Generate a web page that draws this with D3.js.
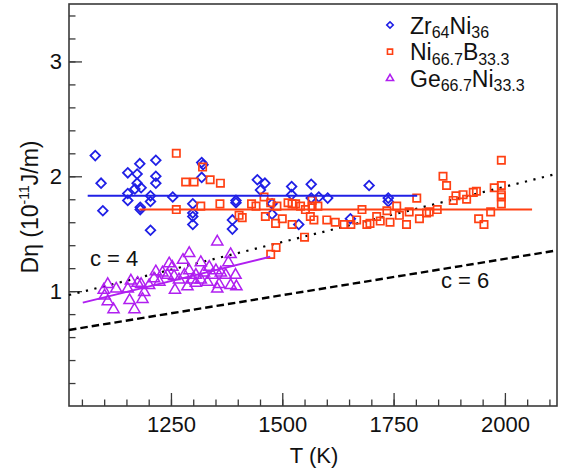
<!DOCTYPE html>
<html>
<head>
<meta charset="utf-8">
<script src="https://cdn.jsdelivr.net/npm/d3@7"></script>
<style>
  body { margin: 0; background: #fff; }
  svg text { font-family: "Liberation Sans", Arial, Helvetica, sans-serif; fill: #111; }
</style>
</head>
<body>
<div id="chart"></div>
<script>
// Zr64Ni36 (T in K, D*eta in 1e-11 J/m)
const zrData = [
  [1080, 2.18], [1093, 1.94], [1097, 1.70], [1153, 2.03], [1153, 1.85], [1153, 1.79],
  [1174, 2.02], [1174, 1.94], [1169, 1.89], [1183, 1.90], [1180, 2.11], [1181, 1.73],
  [1181, 1.71], [1216, 2.14], [1216, 2.00], [1216, 1.94], [1204, 1.83], [1204, 1.78],
  [1204, 1.53], [1254, 1.82], [1299, 1.76], [1299, 1.68], [1299, 1.65], [1299, 1.58],
  [1319, 2.12], [1322, 2.10], [1319, 1.99], [1396, 1.79], [1396, 1.77], [1388, 1.62],
  [1388, 1.54], [1444, 1.97], [1461, 1.94], [1451, 1.88], [1477, 1.76], [1477, 1.67],
  [1521, 1.91], [1521, 1.84], [1565, 1.93], [1565, 1.81], [1582, 1.82], [1602, 1.81],
  [1537, 1.58], [1653, 1.63], [1695, 1.92], [1738, 1.81], [1738, 1.78]
];
// Ni66.7B33.3
const niData = [
  [1262, 2.20], [1321, 2.08], [1283, 1.95], [1302, 1.95], [1338, 1.97], [1361, 1.94],
  [1262, 1.71], [1317, 1.74], [1360, 1.76], [1403, 1.66], [1410, 1.64], [1431, 1.76],
  [1441, 1.74], [1459, 1.82], [1474, 1.77], [1488, 1.74], [1462, 1.65], [1500, 1.63],
  [1485, 1.59], [1522, 1.58], [1513, 1.77], [1522, 1.76], [1530, 1.76], [1541, 1.74],
  [1552, 1.71], [1567, 1.79], [1567, 1.74], [1580, 1.74], [1563, 1.65], [1571, 1.62],
  [1600, 1.62], [1550, 1.47], [1486, 1.38], [1474, 1.32], [1619, 1.60], [1639, 1.58],
  [1654, 1.58], [1667, 1.62], [1690, 1.58], [1697, 1.59], [1679, 1.71], [1712, 1.65],
  [1720, 1.61], [1735, 1.70], [1742, 1.60], [1757, 1.74], [1763, 1.66], [1779, 1.58],
  [1785, 1.69], [1802, 1.81], [1808, 1.63], [1824, 1.68], [1830, 1.69], [1848, 1.71],
  [1861, 2.00], [1869, 1.92], [1884, 1.79], [1890, 1.83], [1906, 1.84], [1914, 1.80],
  [1929, 1.86], [1936, 1.87], [1992, 2.14], [1976, 1.90], [1992, 1.92], [1992, 1.84],
  [1992, 1.82], [1992, 1.76], [1968, 1.69], [1941, 1.63], [1953, 1.58]
];
// Ge66.7Ni33.3
const geData = [
  [1108, 1.06], [1099, 1.01], [1127, 1.02], [1101, 0.96], [1108, 0.91], [1121, 0.84],
  [1153, 1.02], [1160, 1.09], [1183, 1.06], [1190, 0.99], [1157, 0.92], [1168, 0.84],
  [1186, 0.93], [1175, 1.07], [1216, 1.17], [1212, 1.11], [1224, 1.08], [1231, 1.16],
  [1246, 1.24], [1242, 1.14], [1201, 1.05], [1354, 1.43], [1291, 1.33], [1384, 1.32],
  [1277, 1.27], [1317, 1.25], [1253, 1.21], [1336, 1.21], [1379, 1.25], [1291, 1.18],
  [1280, 1.14], [1257, 1.13], [1306, 1.14], [1324, 1.16], [1343, 1.14], [1351, 1.18],
  [1362, 1.16], [1373, 1.14], [1395, 1.14], [1268, 1.10], [1298, 1.10], [1317, 1.10],
  [1332, 1.08], [1358, 1.06], [1384, 1.05], [1354, 1.02], [1259, 1.01], [1287, 1.04],
  [1306, 1.07], [1397, 1.04]
];

// fitted lines and Stokes-Einstein lines
const zrFit = [[1063, 1.83], [1803, 1.83]];
const niFit = [[1179, 1.71], [2061, 1.71]];
const geFit = [[1052, 0.90], [1473, 1.30]];
const c4Line = [[1021, 0.966], [2117, 2.022]];
const c6Line = [[1021, 0.662], [2117, 1.355]];

const xTicksMajor = [1250, 1500, 1750, 2000];
const xTicksMinor = d3.range(1050, 2101, 50);
const yTicksMajor = [1, 2, 3];
const yTicksMinor = d3.range(0.2, 3.41, 0.2);

const W = 562, H = 470;
const margin = { left: 69, right: 557, top: 4, bottom: 406 };

const svg = d3.select("#chart").append("svg")
  .attr("width", W).attr("height", H);

const x = d3.scaleLinear().domain([1021, 2117]).range([margin.left, margin.right]);
const y = d3.scaleLinear().domain([0, 3.5]).range([margin.bottom, margin.top]);

const axisColor = "#3a3a3a";

// x axis (ticks point inwards)
const gx = svg.append("g").attr("transform", `translate(0,${margin.bottom})`);
gx.append("g")
  .call(d3.axisBottom(x).tickValues(xTicksMinor).tickSize(-6.5).tickFormat(""))
  .call(g => g.select(".domain").remove());
gx.append("g")
  .call(d3.axisBottom(x).tickValues(xTicksMajor).tickSize(-13).tickPadding(10).tickFormat(d3.format("d")))
  .call(g => g.select(".domain").remove())
  .selectAll("text").style("font-size", "22px");
gx.selectAll("line").attr("stroke", axisColor).attr("stroke-width", 1.3);

// y axis
const gy = svg.append("g").attr("transform", `translate(${margin.left},0)`);
gy.append("g")
  .call(d3.axisLeft(y).tickValues(yTicksMinor).tickSize(-6.5).tickFormat(""))
  .call(g => g.select(".domain").remove());
gy.append("g")
  .call(d3.axisLeft(y).tickValues(yTicksMajor).tickSize(-13).tickPadding(7).tickFormat(d3.format("d")))
  .call(g => g.select(".domain").remove())
  .selectAll("text").style("font-size", "22px");
gy.selectAll("line").attr("stroke", axisColor).attr("stroke-width", 1.3);

// frame
svg.append("rect")
  .attr("x", margin.left).attr("y", margin.top)
  .attr("width", margin.right - margin.left).attr("height", margin.bottom - margin.top)
  .attr("fill", "none").attr("stroke", axisColor).attr("stroke-width", 1.6);

// axis titles
svg.append("text")
  .attr("x", 314).attr("y", 463)
  .attr("text-anchor", "middle")
  .style("font-size", "22px")
  .text("T (K)");

const yt = svg.append("text")
  .attr("transform", "translate(38,207) rotate(-90)")
  .attr("text-anchor", "middle")
  .style("font-size", "23px");
yt.append("tspan").text("D\u03b7 (10");
yt.append("tspan").attr("dy", -9).style("font-size", "14px").text("-11");
yt.append("tspan").attr("dy", 9).text("J/m)");

const line = d3.line().x(d => x(d[0])).y(d => y(d[1]));

const plot = svg.append("g");

plot.append("path").datum(c4Line)
  .attr("d", line).attr("fill", "none")
  .attr("stroke", "#000").attr("stroke-width", 2.2)
  .attr("stroke-dasharray", "2.2,6.5");
plot.append("path").datum(c6Line)
  .attr("d", line).attr("fill", "none")
  .attr("stroke", "#000").attr("stroke-width", 2.4)
  .attr("stroke-dasharray", "7.5,4");

const blue = "#2020e6", orange = "#ff4013", purple = "#b01ff0";

const sym = (type, size) => d3.symbol().type(type).size(size);

// diamonds
plot.append("g").selectAll("path").data(zrData).join("path")
  .attr("d", sym(d3.symbolSquare, 46))
  .attr("transform", d => `translate(${x(d[0])},${y(d[1])}) rotate(45)`)
  .attr("fill", "none").attr("stroke", blue).attr("stroke-width", 1.8);

// squares
plot.append("g").selectAll("path").data(niData).join("path")
  .attr("d", sym(d3.symbolSquare, 54))
  .attr("transform", d => `translate(${x(d[0])},${y(d[1])})`)
  .attr("fill", "none").attr("stroke", orange).attr("stroke-width", 1.7);

// triangles
plot.append("g").selectAll("path").data(geData).join("path")
  .attr("d", sym(d3.symbolTriangle, 54))
  .attr("transform", d => `translate(${x(d[0])},${y(d[1])})`)
  .attr("fill", "none").attr("stroke", purple).attr("stroke-width", 1.5);

// fits
[[zrFit, blue], [niFit, orange], [geFit, purple]].forEach(([d, c]) => {
  plot.append("path").datum(d).attr("d", line)
    .attr("fill", "none").attr("stroke", c).attr("stroke-width", 2);
});

// c labels
svg.append("text").attr("x", 90).attr("y", 266).style("font-size", "22px").text("c = 4");
svg.append("text").attr("x", 441).attr("y", 288).style("font-size", "22px").text("c = 6");

// legend
const legend = [
  { sym: d3.symbolSquare, size: 21, rot: 45, color: blue, parts: [["Zr", 0], ["64", 1], ["Ni", 0], ["36", 1]] },
  { sym: d3.symbolSquare, size: 26, rot: 0, color: orange, parts: [["Ni", 0], ["66.7", 1], ["B", 0], ["33.3", 1]] },
  { sym: d3.symbolTriangle, size: 22, rot: 0, color: purple, parts: [["Ge", 0], ["66.7", 1], ["Ni", 0], ["33.3", 1]] }
];
legend.forEach((l, i) => {
  const cy = 25 + i * 26.7;
  svg.append("path")
    .attr("d", sym(l.sym, l.size))
    .attr("transform", `translate(390,${cy}) rotate(${l.rot})`)
    .attr("fill", "none").attr("stroke", l.color).attr("stroke-width", 1.6);
  const t = svg.append("text").attr("x", 410).attr("y", cy + 8.5).style("font-size", "23px");
  let low = false;
  l.parts.forEach(([s, sub]) => {
    const ts = t.append("tspan").text(s);
    if (sub && !low) { ts.attr("dy", 4.5); low = true; }
    else if (!sub && low) { ts.attr("dy", -4.5); low = false; }
    if (sub) ts.style("font-size", "16px");
  });
});
</script>
</body>
</html>
